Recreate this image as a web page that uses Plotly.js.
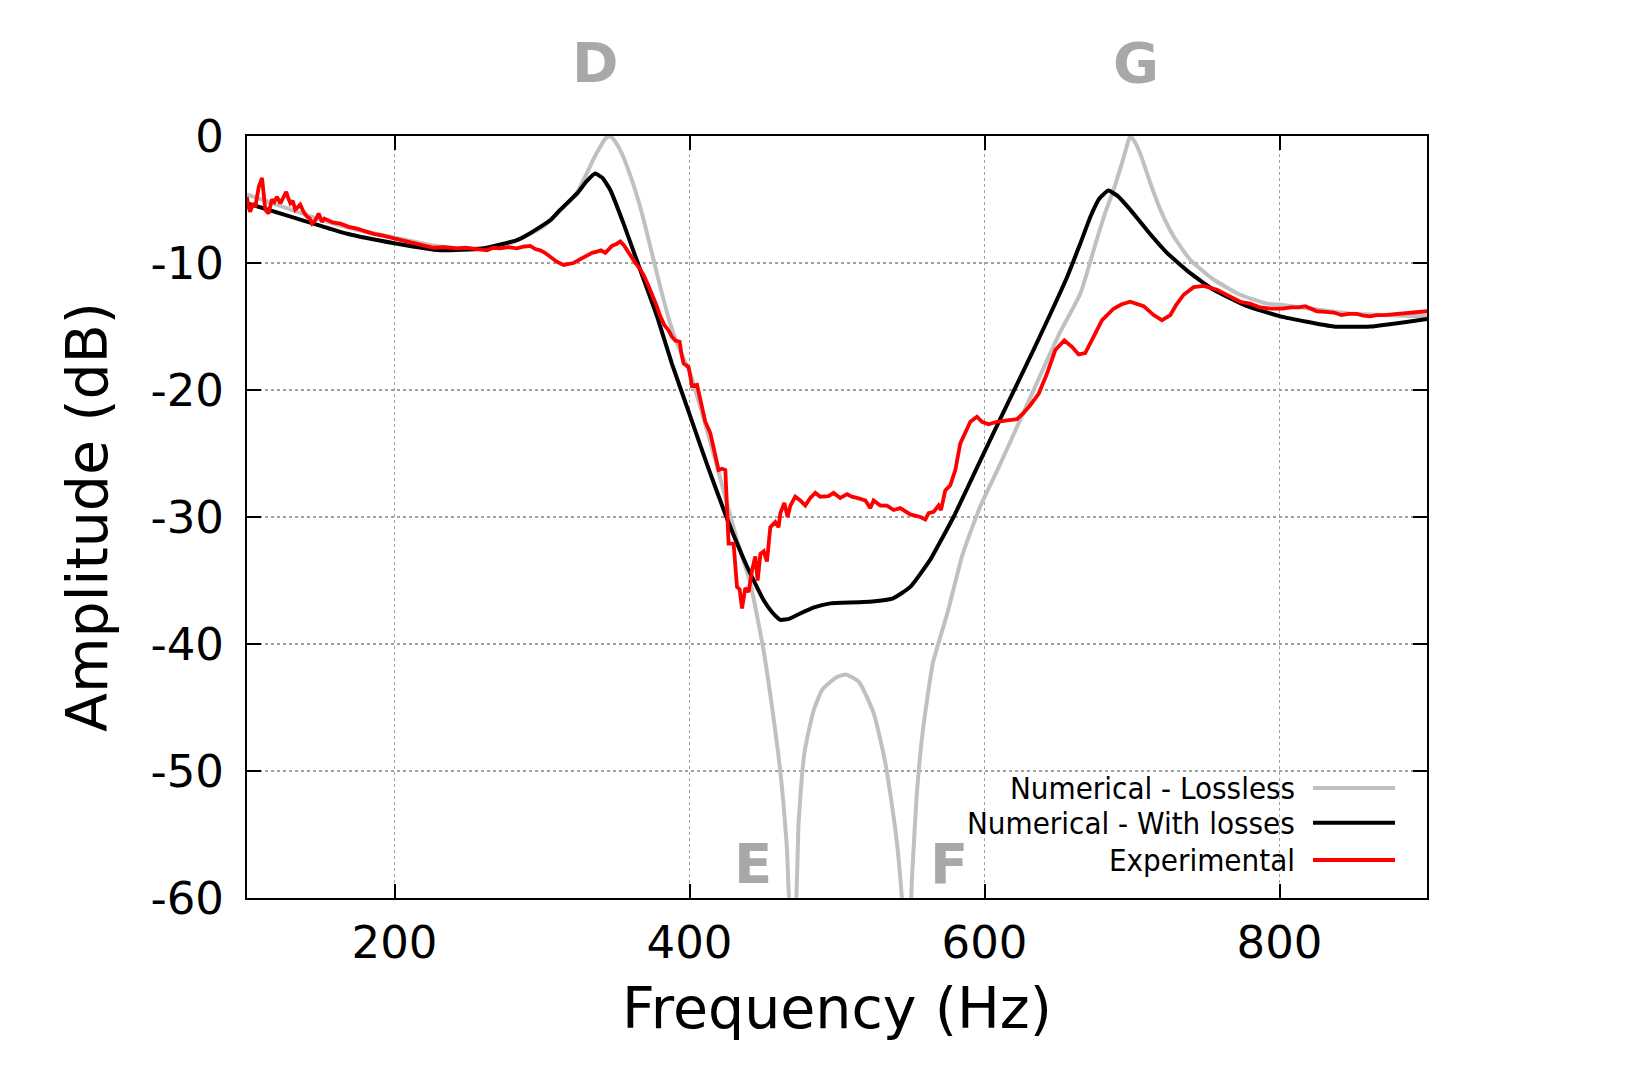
<!DOCTYPE html>
<html>
<head>
<meta charset="utf-8">
<script src="https://cdn.plot.ly/plotly-3.0.1.min.js"></script>
<style>
  html, body { margin: 0; padding: 0; background: #fff; }
  #chart { width: 1642px; height: 1091px; }
</style>
</head>
<body>
<div id="chart"></div>
<script>
// numerical model, lossless
let losslessFreq = [100, 125, 150, 175, 200, 225, 250, 275, 300, 312.4, 324, 330.5, 335, 339.5, 343, 346.3, 350, 354.2, 361, 367.8, 373.4, 380.2, 386.9, 391.5, 400.5, 410, 418.6, 432.2, 441.2, 450.2, 456, 462, 466, 469,
  471, 474, 478, 484, 490, 500, 506, 515, 525, 533, 540, 544, 546,
  548, 551, 554, 558, 565, 575, 585, 597, 610, 624, 638, 651, 665, 676, 682, 687.5, 693, 696, 698.8, 702, 705.6, 712.4, 719.2, 728.2, 739.5, 755.3, 773.4, 791.5, 801.7, 850, 900]
let losslessDb = [-4.6, -5.6, -6.6, -7.4, -8.0, -8.6, -8.9, -8.6, -7.2, -5.9, -4.4, -2.9, -1.8, -0.85, -0.2, 0, -0.5, -1.4, -3.5, -6.1, -8.7, -11.9, -14.75, -16.3, -18.7, -22.4, -26.0, -31.8, -35.2, -40.5, -45.0, -50.5, -56.0, -62,
  -62, -54, -48.5, -45.3, -43.6, -42.6, -42.4, -43.0, -45.5, -49.5, -55.0, -60, -64,
  -64, -58, -52, -47, -41.5, -37.5, -33.0, -29.2, -26.0, -22.4, -18.8, -15.5, -12.4, -8.2, -6.0, -4.25, -2.2, -1.0, 0, -0.5, -1.4, -3.7, -5.8, -7.9, -9.75, -11.3, -12.5, -13.2, -13.3, -14.0, -14.2]

// numerical model, with losses
let lossyFreq = [100, 134, 168, 200, 231, 260, 283, 292, 306, 312.4, 324, 330, 336, 341, 346.3, 355.3, 366.6, 378, 388, 400, 412, 425, 439, 450, 456, 461.6, 468, 475, 485, 495.5, 518, 538, 549.7, 563, 579, 597, 611, 633, 656, 665, 672, 678, 684, 690, 698.8, 710, 723.7, 739.5, 755.3, 778, 800.6, 836.7, 861.5, 900]
let lossyDb = [-5.3, -6.5, -7.7, -8.45, -9.0, -8.85, -8.2, -7.66, -6.6, -5.8, -4.5, -3.6, -2.95, -3.3, -4.25, -6.9, -10.55, -14.2, -17.9, -21.9, -25.9, -30.0, -33.9, -36.5, -37.5, -38.1, -38.0, -37.6, -37.1, -36.8, -36.7, -36.4, -35.5, -33.4, -30.0, -25.6, -22.2, -16.9, -11.1, -8.45, -6.3, -4.9, -4.3, -4.7, -5.8, -7.4, -9.2, -10.8, -12.1, -13.4, -14.2, -15.0, -15.0, -14.4]

// measurement
let expFreq = [100, 101, 102.2, 104, 105.6, 107, 108, 110.2, 111.5, 112.4, 114.6, 116, 116.9, 118.5, 120.3, 122.6, 124.5, 126.6, 128, 129.4,
  131, 132.7, 134.5, 136.1, 138.5, 140.7, 142.5, 144.1, 146.5, 148.6, 150.8, 152.5, 154.2, 158, 163.3, 169, 174.6, 180, 185.8, 192,
  199.4, 206, 213, 220, 226.5, 234, 242.4, 248, 253.6, 258, 262.7, 267, 271.7, 277, 283, 288, 292, 295.5, 298.8, 302,
  305.6, 310, 314.6, 318, 321.4, 326, 330.5, 334, 337.3, 340, 342.9, 345, 347.5, 350.5, 353.1, 355.5, 357.6, 360.5, 363.3, 366,
  368.9, 371.8, 374.6, 377.5, 380.2, 383, 385.8, 388, 390.4, 393.3, 394.6, 396, 399.4, 400.5, 401.7, 405.1, 407, 408.5, 410.7, 414.1,
  416, 417.5, 419.7, 422, 424.3, 425.4, 426.5, 429.9, 432.2, 434, 435.6, 437.8, 440.1, 442.4, 444.6, 446.2, 448.1, 450.3, 452.5, 454.8,
  458.2, 460.4, 461.6, 464.3, 466.5, 468.4, 471.7, 475.1, 478.5, 481.9, 485.3, 488.7, 494.3, 497.7, 502.2, 506.8, 510, 513.5, 519.2, 522.6,
  524.8, 529.4, 533.9, 538.4, 542.9, 549.7, 556.5, 559.9, 562.1, 565.5, 568.9, 570.5, 573.4, 576.8, 580.2, 583.6, 587, 590.4, 594.9, 598.3,
  602.8, 608.5, 615.3, 622, 626.5, 631, 636.7, 642.4, 648, 654.1, 659.3, 663.8, 668.3, 674, 679.7, 687.5, 693, 698.8, 703, 707.9,
  714.7, 720.3, 726, 730, 735, 741.8, 748.5, 757.6, 766.6, 773.4, 780, 787, 794, 801.7, 808, 813, 817.5, 821, 825.4, 831,
  836.7, 842, 847, 852.5, 857, 861.5, 866, 871, 877, 882, 887, 893, 900]
let expDb = [-4.8, -5.6, -5.96, -5.3, -5.6, -4.6, -4.0, -3.3, -4.5, -5.8, -6.1, -5.3, -5.0, -5.2, -4.8, -5.3, -4.9, -4.4, -4.9, -5.3,
  -5.1, -5.8, -5.6, -5.4, -6.0, -6.35, -6.5, -6.9, -6.6, -6.1, -6.75, -6.5, -6.6, -6.8, -6.9, -7.15, -7.3, -7.5, -7.7, -7.85,
  -8.05, -8.25, -8.45, -8.6, -8.8, -8.75, -8.85, -8.8, -8.85, -8.95, -9.0, -8.8, -8.85, -8.75, -8.85, -8.7, -8.65, -8.9, -9.0, -9.2,
  -9.5, -9.9, -10.15, -10.1, -10.0, -9.7, -9.4, -9.2, -9.1, -9.0, -9.2, -8.9, -8.65, -8.5, -8.3, -8.6, -9.0, -9.5, -10.0, -10.4,
  -10.95, -11.7, -12.4, -13.3, -14.2, -14.9, -15.3, -15.8, -16.1, -16.2, -17.2, -17.9, -18.2, -19.0, -19.7, -19.6, -20.6, -21.3, -22.5, -23.4,
  -24.3, -25.25, -26.3, -26.2, -26.3, -29.2, -32.1, -32.1, -35.5, -35.7, -37.2, -35.6, -35.9, -34.2, -33.1, -35.0, -32.9, -32.7, -33.5, -30.8,
  -30.4, -30.8, -29.7, -28.9, -30.0, -29.1, -28.4, -28.7, -29.1, -28.5, -28.1, -28.4, -28.35, -28.1, -28.5, -28.2, -28.4, -28.5, -28.7, -29.3,
  -28.7, -29.1, -29.1, -29.45, -29.3, -29.8, -30.0, -30.2, -29.7, -29.6, -29.1, -29.45, -27.9, -27.5, -26.3, -24.2, -23.4, -22.5, -22.1, -22.5,
  -22.7, -22.5, -22.4, -22.3, -21.8, -21.2, -20.3, -18.7, -16.85, -16.1, -16.6, -17.2, -17.1, -15.8, -14.5, -13.6, -13.25, -13.05, -13.2, -13.4,
  -14.1, -14.5, -14.1, -13.3, -12.5, -11.9, -11.8, -12.1, -12.65, -13.05, -13.2, -13.5, -13.6, -13.6, -13.5, -13.5, -13.4, -13.6, -13.8, -13.85,
  -13.9, -14.1, -14.0, -14.0, -14.15, -14.2, -14.1, -14.1, -14.05, -14.0, -13.95, -13.85, -13.8]

let seriesNames = ['Numerical - Lossless', 'Numerical - With losses', 'Experimental']
let seriesColors = ['#c0c0c0', '#000000', '#ff0000']

let xTicks = [200, 400, 600, 800]
let yTicks = [-60, -50, -40, -30, -20, -10, 0]
let yTickLabels = ['-60', '-50', '-40', '-30', '-20', '-10', '0']

// mode labels; D and G sit above the frame, so they use paper height
let modeNames = ['D', 'E', 'F', 'G']
let modeFreq = [336, 443, 576, 703]
let modeDb = [null, -57.3, -57.3, null]

let traces = [
  { x: losslessFreq, y: losslessDb, mode: 'lines', name: seriesNames[0], line: { color: seriesColors[0], width: 4, shape: 'spline', smoothing: 0.5 } },
  { x: lossyFreq, y: lossyDb, mode: 'lines', name: seriesNames[1], line: { color: seriesColors[1], width: 4, shape: 'spline', smoothing: 0.4 } },
  { x: expFreq, y: expDb, mode: 'lines', name: seriesNames[2], line: { color: seriesColors[2], width: 3.8 } }
]

let annotations = []
let shapes = []

for (let i = 0; i < modeNames.length; i++) {
  let above = modeDb[i] === null
  annotations.push({
    x: modeFreq[i], xref: 'x',
    y: above ? 1.096 : modeDb[i], yref: above ? 'paper' : 'y', yanchor: 'middle',
    text: '<b>' + modeNames[i] + '</b>',
    showarrow: false, font: { family: 'DejaVu Sans', size: 56, color: '#a8a8a8' }
  })
}

// legend drawn by hand: text on the left, sample line on the right
let legendRows = [0.1444, 0.0988, 0.0499]
for (let i = 0; i < seriesNames.length; i++) {
  annotations.push({
    x: 0.8898, y: legendRows[i], xref: 'paper', yref: 'paper', xanchor: 'right', yanchor: 'middle',
    text: seriesNames[i], showarrow: false,
    font: { family: 'DejaVu Sans Condensed, DejaVu Sans', size: 31, color: '#000' }
  })
  shapes.push({
    type: 'line', xref: 'paper', yref: 'paper', x0: 0.9034, x1: 0.9729, y0: legendRows[i], y1: legendRows[i],
    line: { color: seriesColors[i], width: 4 }
  })
}

let axisCommon = {
  showline: true, linecolor: '#000', linewidth: 2, mirror: 'ticks',
  ticks: 'inside', ticklen: 14, tickwidth: 2, tickcolor: '#000',
  showgrid: true, gridcolor: '#a0a0a0', griddash: 'dot', gridwidth: 1.5,
  zeroline: false, tickfont: { family: 'DejaVu Sans', size: 45, color: '#000' }
}

let layout = {
  width: 1642,
  height: 1091,
  margin: { l: 247, r: 215, t: 136, b: 193 },
  paper_bgcolor: '#fff',
  plot_bgcolor: '#fff',
  showlegend: false,
  xaxis: Object.assign({}, axisCommon, {
    range: [100, 900], tickvals: xTicks, ticklabelstandoff: 4,
    title: { text: 'Frequency (Hz)', font: { family: 'DejaVu Sans', size: 57, color: '#000' }, standoff: 20 }
  }),
  yaxis: Object.assign({}, axisCommon, {
    range: [-60, 0], tickvals: yTicks, ticktext: yTickLabels, ticklabelstandoff: 12,
    title: { text: 'Amplitude (dB)', font: { family: 'DejaVu Sans', size: 57, color: '#000' }, standoff: 25 }
  }),
  annotations: annotations,
  shapes: shapes
}

Plotly.newPlot('chart', traces, layout, { displayModeBar: false, staticPlot: true })
</script>
</body>
</html>
